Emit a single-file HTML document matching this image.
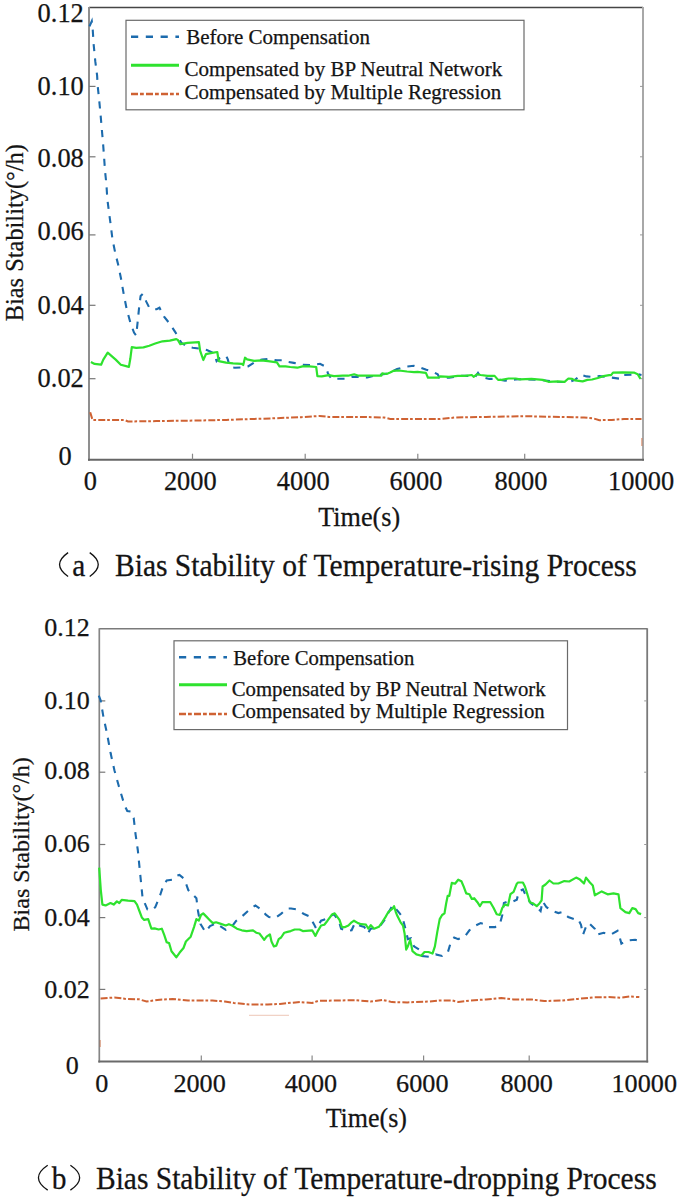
<!DOCTYPE html>
<html><head><meta charset="utf-8"><title>Bias Stability</title>
<style>
html,body{margin:0;padding:0;background:#fff;width:685px;height:1197px;overflow:hidden;}
svg{display:block;font-family:"Liberation Serif", serif;fill:#111;}
text{fill:#141414;stroke:#141414;stroke-width:0.25px;}
</style></head>
<body>
<svg width="685" height="1197" viewBox="0 0 685 1197">
<line x1="89" y1="7.5" x2="643" y2="7.5" stroke="#454545" stroke-width="1.3"/>
<line x1="89" y1="6.9" x2="89" y2="460.7" stroke="#8f8f8f" stroke-width="2"/>
<line x1="643" y1="6.9" x2="643" y2="460.7" stroke="#a8a8a8" stroke-width="2"/>
<line x1="88" y1="459.7" x2="644" y2="459.7" stroke="#666" stroke-width="2"/>
<line x1="89" y1="86.4" x2="95.5" y2="86.4" stroke="#777" stroke-width="1.2"/>
<line x1="89" y1="156.8" x2="95.5" y2="156.8" stroke="#777" stroke-width="1.2"/>
<line x1="89" y1="234.9" x2="95.5" y2="234.9" stroke="#777" stroke-width="1.2"/>
<line x1="89" y1="305.3" x2="95.5" y2="305.3" stroke="#777" stroke-width="1.2"/>
<line x1="89" y1="378.7" x2="95.5" y2="378.7" stroke="#777" stroke-width="1.2"/>
<line x1="192.5" y1="459.7" x2="192.5" y2="453.7" stroke="#888" stroke-width="1.2"/>
<line x1="305.2" y1="459.7" x2="305.2" y2="453.7" stroke="#888" stroke-width="1.2"/>
<line x1="417.8" y1="459.7" x2="417.8" y2="453.7" stroke="#888" stroke-width="1.2"/>
<line x1="524.7" y1="459.7" x2="524.7" y2="453.7" stroke="#888" stroke-width="1.2"/>
<line x1="643" y1="86.4" x2="640" y2="86.4" stroke="#999" stroke-width="1"/>
<line x1="643" y1="156.8" x2="640" y2="156.8" stroke="#999" stroke-width="1"/>
<line x1="643" y1="234.9" x2="640" y2="234.9" stroke="#999" stroke-width="1"/>
<line x1="643" y1="305.3" x2="640" y2="305.3" stroke="#999" stroke-width="1"/>
<line x1="643" y1="378.7" x2="640" y2="378.7" stroke="#999" stroke-width="1"/>
<line x1="641.8" y1="438" x2="641.8" y2="446" stroke="#cf6233" stroke-width="1.2" opacity="0.6"/>
<text x="83.8" y="22.3" font-size="26.4" text-anchor="end" >0.12</text>
<text x="83.8" y="94.6" font-size="26.4" text-anchor="end" >0.10</text>
<text x="83.8" y="166.7" font-size="26.4" text-anchor="end" >0.08</text>
<text x="83.8" y="240.0" font-size="26.4" text-anchor="end" >0.06</text>
<text x="83.8" y="314.0" font-size="26.4" text-anchor="end" >0.04</text>
<text x="83.8" y="387.3" font-size="26.4" text-anchor="end" >0.02</text>
<text x="65" y="464.6" font-size="26.4" text-anchor="middle" >0</text>
<text x="90.3" y="490.2" font-size="26.4" text-anchor="middle" >0</text>
<text x="190.3" y="490.2" font-size="26.4" text-anchor="middle" >2000</text>
<text x="303.2" y="490.2" font-size="26.4" text-anchor="middle" >4000</text>
<text x="416.0" y="490.2" font-size="26.4" text-anchor="middle" >6000</text>
<text x="521.0" y="490.2" font-size="26.4" text-anchor="middle" >8000</text>
<text x="641.1" y="490.2" font-size="26.4" text-anchor="middle" >10000</text>
<text x="0" y="0" font-size="26.2" text-anchor="middle" transform="translate(359.2,526.3) scale(1,1.07)" >Time(s)</text>
<text x="0" y="0" font-size="24.4" text-anchor="middle" transform="translate(22.6,232.7) rotate(-90)">Bias Stability(°/h)</text>
<path d="M68.1,552.6 Q51.0,564.55 68.1,576.5" fill="none" stroke="#111" stroke-width="1.3"/>
<text x="0" y="0" font-size="29.4" text-anchor="start" transform="translate(72.2,575.7) scale(1,1.06)" >a</text>
<path d="M89.7,552.6 Q106.8,564.55 89.7,576.5" fill="none" stroke="#111" stroke-width="1.3"/>
<text x="0" y="0" font-size="29.4" text-anchor="start" transform="translate(115.0,575.7) scale(1,1.06)" textLength="521.8" lengthAdjust="spacingAndGlyphs">Bias Stability of Temperature-rising Process</text>
<rect x="126" y="20.3" width="398" height="89.5" fill="#fff" stroke="#6a6a6a" stroke-width="1.2"/>
<line x1="131" y1="36.7" x2="179" y2="36.7" stroke="#1c6bad" stroke-width="2.5" stroke-dasharray="7.2 7.6"/>
<line x1="131" y1="65.2" x2="179" y2="65.2" stroke="#2ee22e" stroke-width="2.9"/>
<line x1="131" y1="94" x2="179" y2="94" stroke="#cf6233" stroke-width="2.5" stroke-dasharray="7 2 3.8 2.2"/>
<text x="186.2" y="44.3" font-size="21.0" text-anchor="start" >Before Compensation</text>
<text x="184.6" y="75.5" font-size="21.0" text-anchor="start" >Compensated by BP Neutral Network</text>
<text x="184.6" y="98.8" font-size="21.0" text-anchor="start" >Compensated by Multiple Regression</text>
<polyline points="90.2,412.2 92.5,419.9 124.5,419.9 128.0,421.5 156.1,421.1 179.4,420.8 202.8,420.4 226.2,419.9 246.0,419.2 270.7,418.4 301.3,417.2 319.7,415.9 328.9,416.9 362.6,416.9 384.1,417.5 390.2,419.0 424.0,419.0 440.0,419.0 455.3,417.5 486.0,416.9 525.8,416.2 584.1,417.5 593.3,418.4 599.4,420.2 611.7,419.9 624.0,419.0 641.5,419.0" fill="none" stroke="#cf6233" stroke-width="2.0" stroke-dasharray="7 1.9 2.7 2.2"/>
<polyline points="89.5,26.4 91.8,21.1 92.6,27.5 93.6,43.9 95.3,61.4 97.1,75.4 97.7,85.9 99.4,102.3 100.6,115.1 101.8,129.2 103.0,142.7 104.1,157.4 105.0,170.7 106.4,184.1 107.3,198.8 109.0,212.2 110.8,225.6 112.4,238.9 115.1,252.3 118.4,265.7 121.1,279.0 123.8,294.6 126.7,309.2 130.3,322.3 134.0,332.6 136.2,335.5 137.6,322.3 139.1,307.7 140.6,296.1 142.7,293.9 146.4,301.9 149.3,307.7 153.0,309.4 156.6,309.2 159.5,307.7 163.9,316.5 169.8,323.8 175.6,332.6 179.4,339.5 181.4,342.8 187.5,346.6 192.8,347.7 201.5,348.9 206.8,350.1 212.0,352.4 215.5,357.7 216.6,361.2 220.0,358.0 226.1,355.9 227.8,359.4 229.6,367.0 234.8,367.7 243.6,367.3 248.0,366.4 255.0,362.0 262.0,359.5 268.1,358.9 276.9,360.3 282.1,360.3 288.5,362.0 293.8,362.9 302.5,364.7 311.3,365.2 320.0,363.8 326.2,367.0 327.9,373.4 331.4,378.7 344.6,378.7 351.6,376.9 358.6,376.9 367.3,377.5 376.1,375.2 384.9,374.0 390.1,372.6 397.1,369.1 405.3,366.8 414.0,365.8 419.3,367.2 426.3,369.8 431.5,371.2 437.7,374.2 439.4,377.7 449.1,377.7 461.3,375.9 471.8,375.9 475.3,376.8 478.0,372.9 480.6,376.8 489.3,378.9 494.6,378.9 505.1,380.6 515.6,379.4 520.0,379.2 539.0,379.9 558.0,381.8 568.4,382.1 575.0,379.9 580.7,374.7 586.4,376.4 592.1,377.0 599.7,376.1 607.3,377.0 612.0,377.6 620.6,378.9 623.4,375.1 633.9,374.7 637.7,374.2 641.5,375.0" fill="none" stroke="#1c6bad" stroke-width="2.1" stroke-dasharray="7.2 7.2"/>
<polyline points="90.9,362.0 94.6,363.9 101.1,364.7 103.3,359.6 107.7,352.7 111.4,355.9 115.7,359.6 120.8,364.7 128.9,366.9 130.3,358.8 131.8,347.2 136.2,347.9 143.5,347.4 149.3,345.7 155.2,343.5 162.5,341.3 169.8,340.6 176.3,339.1 177.8,339.9 180.3,344.2 187.5,342.8 198.9,342.1 200.1,350.7 203.3,360.0 205.9,354.2 212.0,352.9 217.3,352.0 218.7,361.2 226.1,362.6 233.1,363.4 241.8,363.8 243.2,365.0 245.0,357.7 247.1,359.4 254.1,360.8 261.1,360.3 268.1,361.2 276.9,362.4 279.5,366.4 285.6,366.4 290.3,367.0 297.3,367.7 302.5,366.4 309.5,366.4 316.2,367.0 317.4,376.1 321.8,376.4 328.8,375.2 334.0,376.1 342.8,375.7 348.1,375.7 354.2,374.3 358.6,375.7 367.3,375.7 381.4,375.7 382.2,373.4 386.6,374.0 390.1,372.6 393.6,370.8 398.9,370.5 407.0,371.5 414.0,372.1 417.5,371.9 425.9,372.9 428.0,377.7 438.5,377.7 440.3,376.4 449.1,376.8 457.8,375.9 464.8,375.9 471.8,375.0 473.6,376.8 477.1,374.2 480.6,375.0 487.6,375.9 494.6,375.9 498.1,379.9 501.6,379.9 508.6,378.5 515.6,378.5 520.0,379.4 531.4,378.9 542.8,379.9 548.5,381.8 558.0,381.4 564.6,381.8 568.4,378.5 572.2,378.9 575.0,380.4 582.6,381.4 587.4,379.9 592.1,379.5 597.8,378.0 603.5,376.1 609.2,375.1 611.1,375.1 613.0,372.6 622.5,372.3 633.9,372.6 637.7,374.2 640.5,378.9" fill="none" stroke="#2ee22e" stroke-width="2.2" stroke-linejoin="round"/>
<line x1="99.3" y1="628.8" x2="647.2" y2="628.8" stroke="#7a7a7a" stroke-width="1.6"/>
<line x1="99.3" y1="628.1999999999999" x2="99.3" y2="1062.5" stroke="#858585" stroke-width="1.7"/>
<line x1="647.2" y1="628.1999999999999" x2="647.2" y2="1062.5" stroke="#7a7a7a" stroke-width="1.8"/>
<line x1="98.3" y1="1061.5" x2="648.2" y2="1061.5" stroke="#6a6a6a" stroke-width="1.8"/>
<line x1="99.3" y1="700.9" x2="105.3" y2="700.9" stroke="#777" stroke-width="1.2"/>
<line x1="99.3" y1="772.2" x2="105.3" y2="772.2" stroke="#777" stroke-width="1.2"/>
<line x1="99.3" y1="844.5" x2="105.3" y2="844.5" stroke="#777" stroke-width="1.2"/>
<line x1="99.3" y1="917.6" x2="105.3" y2="917.6" stroke="#777" stroke-width="1.2"/>
<line x1="99.3" y1="989.4" x2="105.3" y2="989.4" stroke="#777" stroke-width="1.2"/>
<line x1="201.3" y1="1061.5" x2="201.3" y2="1055.5" stroke="#888" stroke-width="1.2"/>
<line x1="312.1" y1="1061.5" x2="312.1" y2="1055.5" stroke="#888" stroke-width="1.2"/>
<line x1="423.6" y1="1061.5" x2="423.6" y2="1055.5" stroke="#888" stroke-width="1.2"/>
<line x1="529.2" y1="1061.5" x2="529.2" y2="1055.5" stroke="#888" stroke-width="1.2"/>
<line x1="647.2" y1="700.9" x2="644.2" y2="700.9" stroke="#999" stroke-width="1"/>
<line x1="647.2" y1="772.2" x2="644.2" y2="772.2" stroke="#999" stroke-width="1"/>
<line x1="647.2" y1="844.5" x2="644.2" y2="844.5" stroke="#999" stroke-width="1"/>
<line x1="647.2" y1="917.6" x2="644.2" y2="917.6" stroke="#999" stroke-width="1"/>
<line x1="647.2" y1="989.4" x2="644.2" y2="989.4" stroke="#999" stroke-width="1"/>
<line x1="249" y1="1015.3" x2="289" y2="1015.3" stroke="#cf6233" stroke-width="1.2" opacity="0.28"/>
<line x1="100.3" y1="1040" x2="100.3" y2="1047" stroke="#cf6233" stroke-width="1.2" opacity="0.5"/>
<text x="89.8" y="636.2" font-size="26.0" text-anchor="end" >0.12</text>
<text x="89.8" y="708.8" font-size="26.0" text-anchor="end" >0.10</text>
<text x="89.8" y="779.2" font-size="26.0" text-anchor="end" >0.08</text>
<text x="89.8" y="851.7" font-size="26.0" text-anchor="end" >0.06</text>
<text x="89.8" y="925.9" font-size="26.0" text-anchor="end" >0.04</text>
<text x="89.8" y="998.2" font-size="26.0" text-anchor="end" >0.02</text>
<text x="72.2" y="1074.3" font-size="26.0" text-anchor="middle" >0</text>
<text x="101.9" y="1092.2" font-size="26.2" text-anchor="middle" >0</text>
<text x="199.6" y="1092.2" font-size="26.2" text-anchor="middle" >2000</text>
<text x="310.9" y="1092.2" font-size="26.2" text-anchor="middle" >4000</text>
<text x="422.3" y="1092.2" font-size="26.2" text-anchor="middle" >6000</text>
<text x="526.7" y="1092.2" font-size="26.2" text-anchor="middle" >8000</text>
<text x="644.25" y="1092.2" font-size="26.2" text-anchor="middle" >10000</text>
<text x="0" y="0" font-size="26.0" text-anchor="middle" transform="translate(366.3,1127.4) scale(1,1.07)" >Time(s)</text>
<text x="0" y="0" font-size="24" text-anchor="middle" transform="translate(29,844.3) rotate(-90)">Bias Stability(°/h)</text>
<path d="M47.7,1165.3 Q29.200000000000003,1177.6999999999998 47.7,1190.1" fill="none" stroke="#111" stroke-width="1.3"/>
<text x="0" y="0" font-size="29.4" text-anchor="start" transform="translate(51.8,1189.3) scale(1,1.06)" >b</text>
<path d="M70.4,1165.3 Q88.9,1177.6999999999998 70.4,1190.1" fill="none" stroke="#111" stroke-width="1.3"/>
<text x="0" y="0" font-size="29.4" text-anchor="start" transform="translate(96.0,1189.3) scale(1,1.06)" textLength="560.6" lengthAdjust="spacingAndGlyphs">Bias Stability of Temperature-dropping Process</text>
<rect x="174" y="640.8" width="393.5" height="88.8" fill="#fff" stroke="#6a6a6a" stroke-width="1.2"/>
<line x1="179" y1="657.2" x2="227" y2="657.2" stroke="#1c6bad" stroke-width="2.5" stroke-dasharray="7.2 7.6"/>
<line x1="179" y1="684.8" x2="227" y2="684.8" stroke="#2ee22e" stroke-width="2.9"/>
<line x1="179" y1="714.1" x2="227" y2="714.1" stroke="#cf6233" stroke-width="2.5" stroke-dasharray="7 2 3.8 2.2"/>
<text x="233.3" y="664.5" font-size="20.7" text-anchor="start" >Before Compensation</text>
<text x="231.7" y="695.7" font-size="20.75" text-anchor="start" >Compensated by BP Neutral Network</text>
<text x="231.7" y="718.2" font-size="20.75" text-anchor="start" >Compensated by Multiple Regression</text>
<polyline points="100.6,998.4 114.4,997.5 126.7,999.0 138.9,999.3 146.6,1001.5 157.3,999.9 172.6,999.0 188.0,1000.5 212.5,1000.5 224.8,1001.5 234.0,1003.0 249.3,1004.5 267.7,1004.5 280.0,1003.9 295.3,1002.4 300.0,1002.1 312.3,1003.0 318.4,1000.8 336.8,1000.5 355.2,1000.2 370.5,1001.5 382.8,999.9 392.0,1002.1 407.3,1002.4 428.8,1001.5 440.0,1000.4 452.3,1000.4 458.4,1002.0 470.7,1000.4 486.0,999.5 501.3,998.0 513.6,999.5 532.0,999.5 544.2,1001.1 562.6,1000.4 578.0,998.9 593.3,997.4 608.6,997.1 620.9,997.7 630.1,996.5 639.3,997.1" fill="none" stroke="#cf6233" stroke-width="2.0" stroke-dasharray="7 1.9 2.7 2.2"/>
<polyline points="98.8,695.6 100.6,700.2 103.4,716.8 107.0,733.4 110.7,753.6 114.4,770.2 119.0,786.8 124.5,805.2 127.3,811.0 131.0,811.6 133.7,818.0 135.6,834.6 137.8,850.0 139.4,866.1 141.0,882.1 142.6,898.2 147.4,909.4 152.2,910.2 155.4,907.0 160.2,895.0 163.4,885.3 166.7,880.5 172.3,879.7 174.7,876.5 179.5,874.9 184.3,878.9 188.3,890.1 193.2,895.0 196.4,898.2 198.0,911.0 200.4,923.9 205.4,932.0 210.0,926.0 216.1,923.5 220.0,926.0 225.7,929.8 232.0,926.3 236.0,921.0 241.3,917.0 251.4,908.0 255.4,905.4 261.0,909.4 265.8,914.6 269.0,917.0 275.0,918.0 281.0,913.8 287.0,908.6 291.0,908.5 296.4,909.4 304.0,914.0 309.8,916.6 313.8,923.9 316.2,928.7 321.1,920.7 325.9,919.1 330.7,915.8 333.9,914.2 338.7,920.7 341.1,928.7 346.8,931.1 351.6,930.3 354.8,923.1 359.6,925.5 364.4,927.1 367.6,933.5 370.8,928.7 375.7,927.9 380.5,925.5 385.3,919.1 388.5,912.6 392.5,905.4 394.9,907.8 399.7,913.4 402.2,916.6 404.6,925.5 406.2,931.9 407.8,939.1 411.0,938.3 414.0,946.4 420.4,950.4 422.0,956.0 429.3,956.8 435.7,954.4 442.1,956.0 447.7,952.8 450.1,944.7 454.2,937.5 458.2,939.1 464.6,936.7 469.4,930.3 474.2,926.3 480.7,923.1 485.5,924.7 488.7,927.1 495.1,927.1 499.9,923.9 502.3,915.0 503.9,903.0 508.0,901.4 512.0,902.0 516.8,899.8 518.9,891.4 522.9,889.4 526.8,897.3 530.8,903.2 536.7,907.2 540.6,911.1 542.6,901.2 546.5,907.2 550.5,910.1 558.4,913.1 562.3,912.1 568.2,917.0 574.1,919.0 578.1,919.0 581.0,924.9 583.0,934.7 585.9,926.9 588.9,922.9 594.8,928.8 596.8,934.7 603.7,932.8 610.6,934.7 617.5,930.8 619.5,936.7 621.4,943.6 626.4,940.7 635.2,939.7 641.1,941.6" fill="none" stroke="#1c6bad" stroke-width="2.1" stroke-dasharray="7.2 7.2"/>
<polyline points="99.2,867.7 100.8,890.1 102.4,904.6 105.6,905.4 110.5,903.0 113.7,904.6 116.9,901.4 119.3,903.0 121.7,899.8 128.1,900.6 134.5,901.1 137.0,904.6 139.4,911.0 141.8,917.4 144.2,919.9 148.2,919.1 151.4,928.7 154.6,928.4 158.6,929.5 161.8,928.7 164.3,935.1 166.7,942.3 169.1,943.1 171.5,951.2 176.3,957.3 179.5,952.8 183.5,948.0 185.9,941.5 190.7,936.7 194.0,927.1 196.4,919.1 198.8,920.7 201.0,915.0 203.2,913.4 206.4,916.6 209.6,919.9 212.8,923.1 216.1,922.3 220.9,923.9 225.7,925.5 228.9,924.2 232.1,925.5 236.9,928.7 241.8,930.3 246.6,931.1 253.0,930.3 256.2,932.7 259.4,933.5 261.8,936.7 264.2,939.9 266.6,936.7 269.9,934.3 271.5,941.5 273.9,946.4 276.3,945.6 278.7,939.1 281.1,937.5 284.3,932.7 287.5,931.9 290.7,931.1 294.7,929.5 299.6,929.5 302.8,931.1 312.2,930.3 315.4,935.9 317.8,931.1 321.1,925.5 324.3,924.7 327.5,920.7 332.3,914.2 334.7,913.4 337.1,916.6 339.5,919.9 341.9,927.1 345.1,927.1 348.4,925.5 351.6,922.3 354.0,920.7 358.0,923.1 361.2,924.2 366.0,924.7 368.4,928.7 370.8,925.2 374.1,928.7 378.9,926.8 382.1,922.3 385.3,917.4 388.5,911.8 392.5,908.6 394.1,906.2 395.7,911.8 397.3,915.8 400.6,922.3 403.0,925.5 404.6,933.5 406.2,949.6 407.8,946.4 410.2,939.9 412.5,951.2 416.4,954.4 421.2,955.7 424.5,952.0 428.5,952.0 432.5,953.6 434.9,946.4 437.3,931.9 439.7,919.1 442.1,915.0 444.5,913.4 446.1,903.8 447.7,895.8 449.3,895.8 451.8,882.9 455.0,883.7 458.2,879.7 461.4,881.3 463.8,886.9 466.2,893.4 469.4,894.2 471.8,899.0 474.2,898.2 477.4,902.2 479.9,906.2 482.3,902.2 485.5,902.2 490.3,902.2 493.5,907.8 496.7,914.2 499.9,915.0 502.3,907.8 504.7,904.6 508.0,905.4 510.4,894.2 513.6,891.8 516.8,883.7 518.0,882.5 522.9,882.5 524.9,886.5 526.8,892.4 529.8,902.2 532.7,903.2 536.7,906.2 539.6,903.2 541.6,900.3 542.6,886.5 545.5,884.5 549.5,880.5 553.4,883.5 558.4,883.5 564.3,881.1 569.2,881.5 576.1,877.6 580.0,879.6 584.0,883.5 586.0,877.6 589.9,882.5 592.8,885.5 594.8,895.3 601.7,891.4 607.6,894.3 613.5,893.4 618.5,894.3 620.4,908.1 625.4,912.1 629.3,913.1 632.3,908.1 635.6,909.1 638.2,913.1 641.1,914.1" fill="none" stroke="#2ee22e" stroke-width="2.2" stroke-linejoin="round"/>
</svg>
</body></html>
